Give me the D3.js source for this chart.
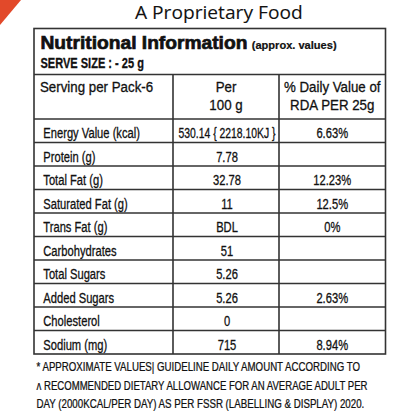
<!DOCTYPE html>
<html>
<head>
<meta charset="utf-8">
<script src="https://cdn.jsdelivr.net/npm/d3@7"></script>
<style>
  html, body { margin: 0; padding: 0; background: #fff; }
  svg { display: block; }
</style>
</head>
<body>
<script>

// table contents
var nutrients = ["Energy Value (kcal)", "Protein (g)", "Total Fat (g)", "Saturated Fat (g)", "Trans Fat (g)",
                 "Carbohydrates", "Total Sugars", "Added Sugars", "Cholesterol", "Sodium (mg)"];
var per100g = ["530.14 { 2218.10KJ }", "7.78", "32.78", "11", "BDL", "51", "5.26", "5.26", "0", "715"];
var dailyValue = ["6.63%", "", "12.23%", "12.5%", "0%", "", "", "2.63%", "", "8.94%"];

var headLabels = [["Serving per Pack-6"], ["Per", "100 g"], ["% Daily Value of", "RDA PER 25g"]];
var footnotes = ["* APPROXIMATE VALUES| GUIDELINE DAILY AMOUNT ACCORDING TO",
                 "\u028C RECOMMENDED DIETARY ALLOWANCE  FOR AN AVERAGE ADULT PER",
                 "DAY (2000KCAL/PER DAY) AS PER FSSR (LABELLING & DISPLAY) 2020."];

var W = 416, H = 416;
var left = 34, right = 385.5;
var colEdges = [left, 173, 279, right];
var boxTop = 28.5, headBottom = 74.5, colHeadBottom = 119, tableBottom = 354;

var sans = "'Liberation Sans', Arial, sans-serif";
var cellSize = "14.5px";

var svg = d3.select("body").append("svg")
    .attr("width", W)
    .attr("height", H);

// row scale for the data rows
var yRow = d3.scaleBand()
    .domain(d3.range(nutrients.length))
    .range([colHeadBottom, tableBottom]);

// put a text at (x, y) squeezed horizontally by f
function place(x, y, str, f, anchor, heavy) {
    var g = svg.append("g").attr("transform", "translate(" + x + "," + y + ")");
    return g.append("text")
        .attr("transform", "scale(" + f + ",1)")
        .attr("text-anchor", anchor || "start")
        .attr("fill", "#111")
        .attr("stroke", "#111")
        .attr("stroke-width", heavy || 0.3)
        .text(str);
}

// width of a string in a given font
var probe = svg.append("text").attr("x", -999).attr("y", -999);
function measure(str, family, size, weight) {
    probe.style("font-family", family).style("font-size", size).style("font-weight", weight || "normal").text(str);
    return probe.node().getComputedTextLength();
}

// condensed look: one factor for the data cells, one for the column headings
var squeeze = 96.7 / measure(nutrients[0], sans, cellSize);
var headSqueeze = 96.7 / measure(headLabels[2][0], sans, cellSize);

// corner triangle
svg.append("path")
    .attr("d", "M0,0 L21,0 L0,25 Z")
    .attr("fill", "#e2492a");

// title
var titleFont = "'Open Sans', 'Noto Sans', sans-serif";
place(218.8, 18.5, "A Proprietary Food", 168 / measure("A Proprietary Food", titleFont, "19px"), "middle", 0.1)
    .style("font-family", titleFont).style("font-size", "19px");

// header block
place(40.5, 49, "Nutritional Information", 207 / measure("Nutritional Information", sans, "19px", "bold"), "start", 0.7)
    .style("font-family", sans).style("font-weight", "bold").style("font-size", "19px");

place(251.7, 48.7, "(approx. values)", 85 / measure("(approx. values)", sans, "11px", "bold"), "start", 0.2)
    .style("font-family", sans).style("font-weight", "bold").style("font-size", "11px");

place(40.5, 67.5, "SERVE SIZE : - 25 g", 103.5 / measure("SERVE SIZE : - 25 g", sans, "14px", "bold"), "start", 0.3)
    .style("font-family", sans).style("font-weight", "bold").style("font-size", "14px");

// column header row
var colX = [40, (colEdges[1] + colEdges[2]) / 2, (colEdges[2] + colEdges[3]) / 2];
headLabels.forEach(function(lines, i) {
    lines.forEach(function(str, j) {
        place(colX[i], 92.3 + j * 17.3, str, headSqueeze, i === 0 ? "start" : "middle")
            .style("font-family", sans).style("font-size", cellSize);
    });
});

// data rows
nutrients.forEach(function(name, i) {
    var y = yRow(i) + 19.3;
    place(43.3, y, name, squeeze)
        .style("font-family", sans).style("font-size", cellSize);
    place(colX[1] + 1, y, per100g[i], per100g[i].length > 10 ? squeeze * 0.93 : squeeze, "middle")
        .style("font-family", sans).style("font-size", cellSize);
    place(colX[2], y, dailyValue[i], squeeze, "middle")
        .style("font-family", sans).style("font-size", cellSize);
});

// grid lines
var gridColor = "#333";
svg.append("rect")
    .attr("x", left).attr("y", boxTop)
    .attr("width", right - left).attr("height", tableBottom - boxTop)
    .attr("fill", "none").attr("stroke", gridColor).attr("stroke-width", 1.6);

svg.selectAll("line.h")
    .data([headBottom, colHeadBottom].concat(d3.range(1, nutrients.length).map(function(i) { return yRow(i); })))
    .enter().append("line")
    .attr("class", "h")
    .attr("x1", left).attr("x2", right)
    .attr("y1", function(d) { return d; }).attr("y2", function(d) { return d; })
    .attr("stroke", gridColor).attr("stroke-width", 1.6);

svg.selectAll("line.v")
    .data(colEdges.slice(1, 3))
    .enter().append("line")
    .attr("class", "v")
    .attr("x1", function(d) { return d; }).attr("x2", function(d) { return d; })
    .attr("y1", headBottom).attr("y2", tableBottom)
    .attr("stroke", gridColor).attr("stroke-width", 1.6);

// footnotes, each fitted to the width it has in the label
var footEnds = [360.5, 367.5, 365];
footnotes.forEach(function(str, i) {
    place(36.5, 371 + i * 18.6, str, (footEnds[i] - 36.5) / measure(str, sans, "12px"), "start", 0.25)
        .style("font-family", sans).style("font-size", "12px");
});

probe.remove();

</script>
</body>
</html>
